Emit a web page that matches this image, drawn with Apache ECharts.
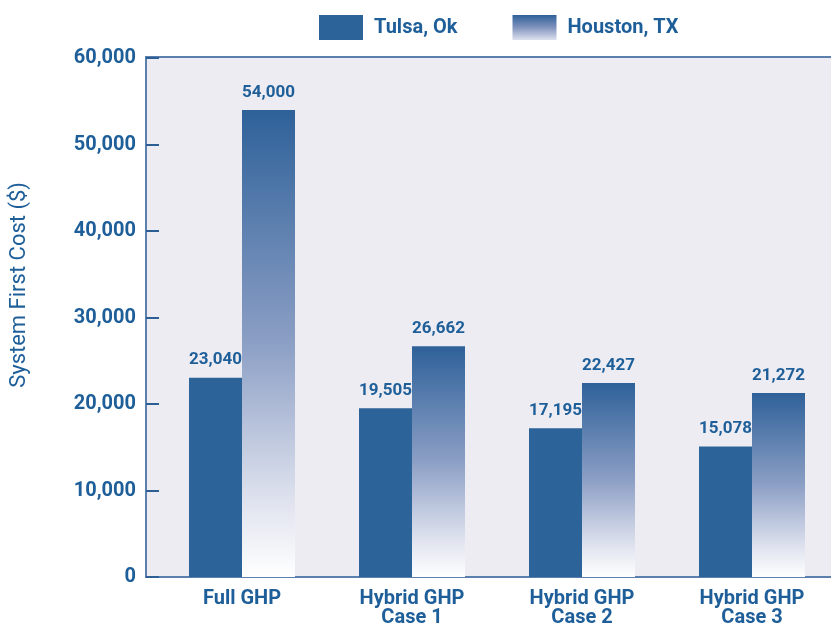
<!DOCTYPE html>
<html style="height: 100%">
<head>
<meta charset="utf-8">
<script src="https://cdn.jsdelivr.net/npm/echarts@6/dist/echarts.min.js"></script>
</head>
<body style="height: 100%; margin: 0; background: #fff">
<div id="container" style="width: 831px; height: 626px"></div>
<script>
// chart data
var categories = ['Full GHP', 'Hybrid GHP\nCase 1', 'Hybrid GHP\nCase 2', 'Hybrid GHP\nCase 3'];
var tulsa = [23040, 19505, 17195, 15078];
var houston = [54000, 26662, 22427, 21272];
var seriesNames = ['Tulsa, Ok', 'Houston, TX'];
var yTicks = [0, 10000, 20000, 30000, 40000, 50000, 60000];

var blue = '#1F5F99';
var lineBlue = '#5B80AE';
var font = 'Roboto';

var dom = document.getElementById('container');
var myChart = echarts.init(dom);

function fmt(v) {
    return v.toLocaleString('en-US');
}

var option = {
    animation: false,
    backgroundColor: '#ffffff',
    legend: {
        left: 314,
        top: 10,
        itemWidth: 44,
        itemHeight: 25,
        itemGap: 55,
        icon: 'rect',
        data: [
            { name: seriesNames[0] },
            {
                name: seriesNames[1],
                // legend swatch fades less than the bars do
                itemStyle: {
                    color: new echarts.graphic.LinearGradient(0, 0, 0, 1, [
                        { offset: 0, color: '#2E6199' },
                        { offset: 0.5, color: '#8193BE' },
                        { offset: 1, color: '#DDE1EE' }
                    ])
                }
            }
        ],
        textStyle: {
            color: blue,
            fontFamily: font,
            fontWeight: 'bold',
            fontSize: 20,
            padding: [0, 0, 0, 6]
        }
    },
    // plot area starts a bit right of the y axis line, like the original
    grid: {
        left: 157,
        top: 58,
        right: -6,
        bottom: 49,
        outerBoundsMode: 'none',
        containLabel: false
    },
    graphic: [
        {
            type: 'rect',
            z: -10,
            shape: { x: 146, y: 57, width: 700, height: 520 },
            style: { fill: '#ECECF2', stroke: lineBlue, lineWidth: 2 }
        },
        {
            type: 'text',
            left: 8,
            top: 182,
            rotation: Math.PI / 2,
            style: {
                text: 'System First Cost ($)',
                fill: blue,
                font: '22px Roboto'
            }
        }
    ],
    xAxis: {
        type: 'category',
        data: categories,
        axisLine: { lineStyle: { color: lineBlue, width: 2 } },
        axisTick: { show: false },
        axisLabel: {
            color: blue,
            fontFamily: font,
            fontWeight: 'bold',
            fontSize: 20,
            lineHeight: 19,
            margin: 12
        }
    },
    yAxis: {
        type: 'value',
        min: yTicks[0],
        max: yTicks[yTicks.length - 1],
        interval: 10000,
        offset: 11,
        splitLine: { show: false },
        axisLine: { show: true, lineStyle: { color: lineBlue, width: 2 } },
        axisTick: { show: true, inside: true, length: 13, lineStyle: { color: '#2B5F95', width: 2 } },
        axisLabel: {
            color: blue,
            fontFamily: font,
            fontWeight: 'bold',
            fontSize: 20,
            margin: 10,
            formatter: fmt
        }
    },
    series: [
        {
            name: seriesNames[0],
            type: 'bar',
            data: tulsa,
            barWidth: 53,
            barGap: '0%',
            itemStyle: { color: '#2C6499' },
            label: {
                show: true,
                position: 'top',
                distance: 9,
                color: blue,
                fontFamily: font,
                fontWeight: 'bold',
                fontSize: 17,
                formatter: function (p) { return fmt(p.value); }
            }
        },
        {
            name: seriesNames[1],
            type: 'bar',
            data: houston,
            barWidth: 53,
            itemStyle: {
                color: new echarts.graphic.LinearGradient(0, 0, 0, 1, [
                    { offset: 0, color: '#2E6199' },
                    { offset: 0.5, color: '#8C9FC5' },
                    { offset: 0.85, color: '#E2E5F0' },
                    { offset: 1, color: '#FFFFFF' }
                ])
            },
            label: {
                show: true,
                position: 'top',
                distance: 9,
                color: blue,
                fontFamily: font,
                fontWeight: 'bold',
                fontSize: 17,
                formatter: function (p) { return fmt(p.value); }
            }
        }
    ]
};

myChart.setOption(option);
</script>
</body>
</html>
